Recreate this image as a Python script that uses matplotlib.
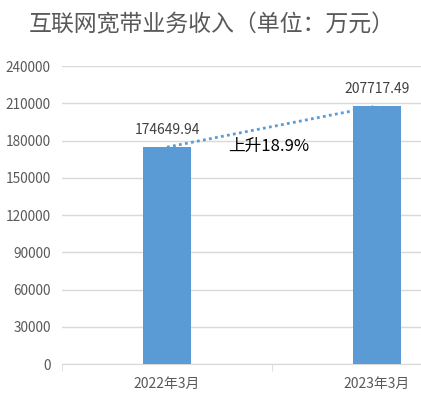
import matplotlib
matplotlib.use("Agg")
import matplotlib.pyplot as plt
import numpy as np

plt.rcParams['font.family'] = ['Noto Sans CJK SC', 'DejaVu Sans']

categories = ["2022年3月", "2023年3月"]
values = [174649.94, 207717.49]
value_labels = ["174649.94", "207717.49"]
yticks = [0, 30000, 60000, 90000, 120000, 150000, 180000, 210000, 240000]
title = "互联网宽带业务收入（单位：万元）"
growth_text = "上升18.9%"

W, H = 421, 399
fig = plt.figure(figsize=(W / 100, H / 100), dpi=100)
ax = fig.add_axes([62 / W, (H - 364) / H, (482 - 62) / W, (364 - 66) / H])

bar_color = "#5B9BD5"
x = np.arange(len(categories))
ax.bar(x, values, width=0.229, color=bar_color, zorder=3)
ax.plot(x, values, linestyle=(0, (1, 1.2)), color=bar_color, linewidth=2, zorder=4)

for xi, v, lab in zip(x, values, value_labels):
    ax.annotate(lab, (xi, v), xytext=(0, 7), textcoords="offset points",
                ha="center", va="bottom", fontsize=10, color="#404040")

ax.text(0.485, 175500, growth_text, ha="center", va="center",
        fontsize=12, color="black", zorder=5)

ax.set_xlim(-0.5, 1.5)
ax.set_ylim(0, 240000)
ax.set_yticks(yticks)
ax.set_yticklabels([str(t) for t in yticks], fontsize=9.8, color="#595959")
ax.tick_params(axis="y", length=0, pad=8)
ax.yaxis.grid(True, color="#D9D9D9", linewidth=1, zorder=0)
ax.set_axisbelow(True)

ax.set_xticks(x)
ax.set_xticklabels(categories, fontsize=10, color="#595959")
ax.set_xticks([-0.5, 0.5, 1.5], minor=True)
ax.tick_params(axis="x", which="major", length=0, pad=9)
ax.tick_params(axis="x", which="minor", length=5, color="#D9D9D9")

for s in ["top", "right", "left"]:
    ax.spines[s].set_visible(False)
ax.spines["bottom"].set_color("#D9D9D9")

fig.text(212 / W, 1 - 25 / H, title, ha="center", va="center", fontsize=16.5,
         color="#595959", fontweight="light")

fig.savefig("out.png", dpi=100)
